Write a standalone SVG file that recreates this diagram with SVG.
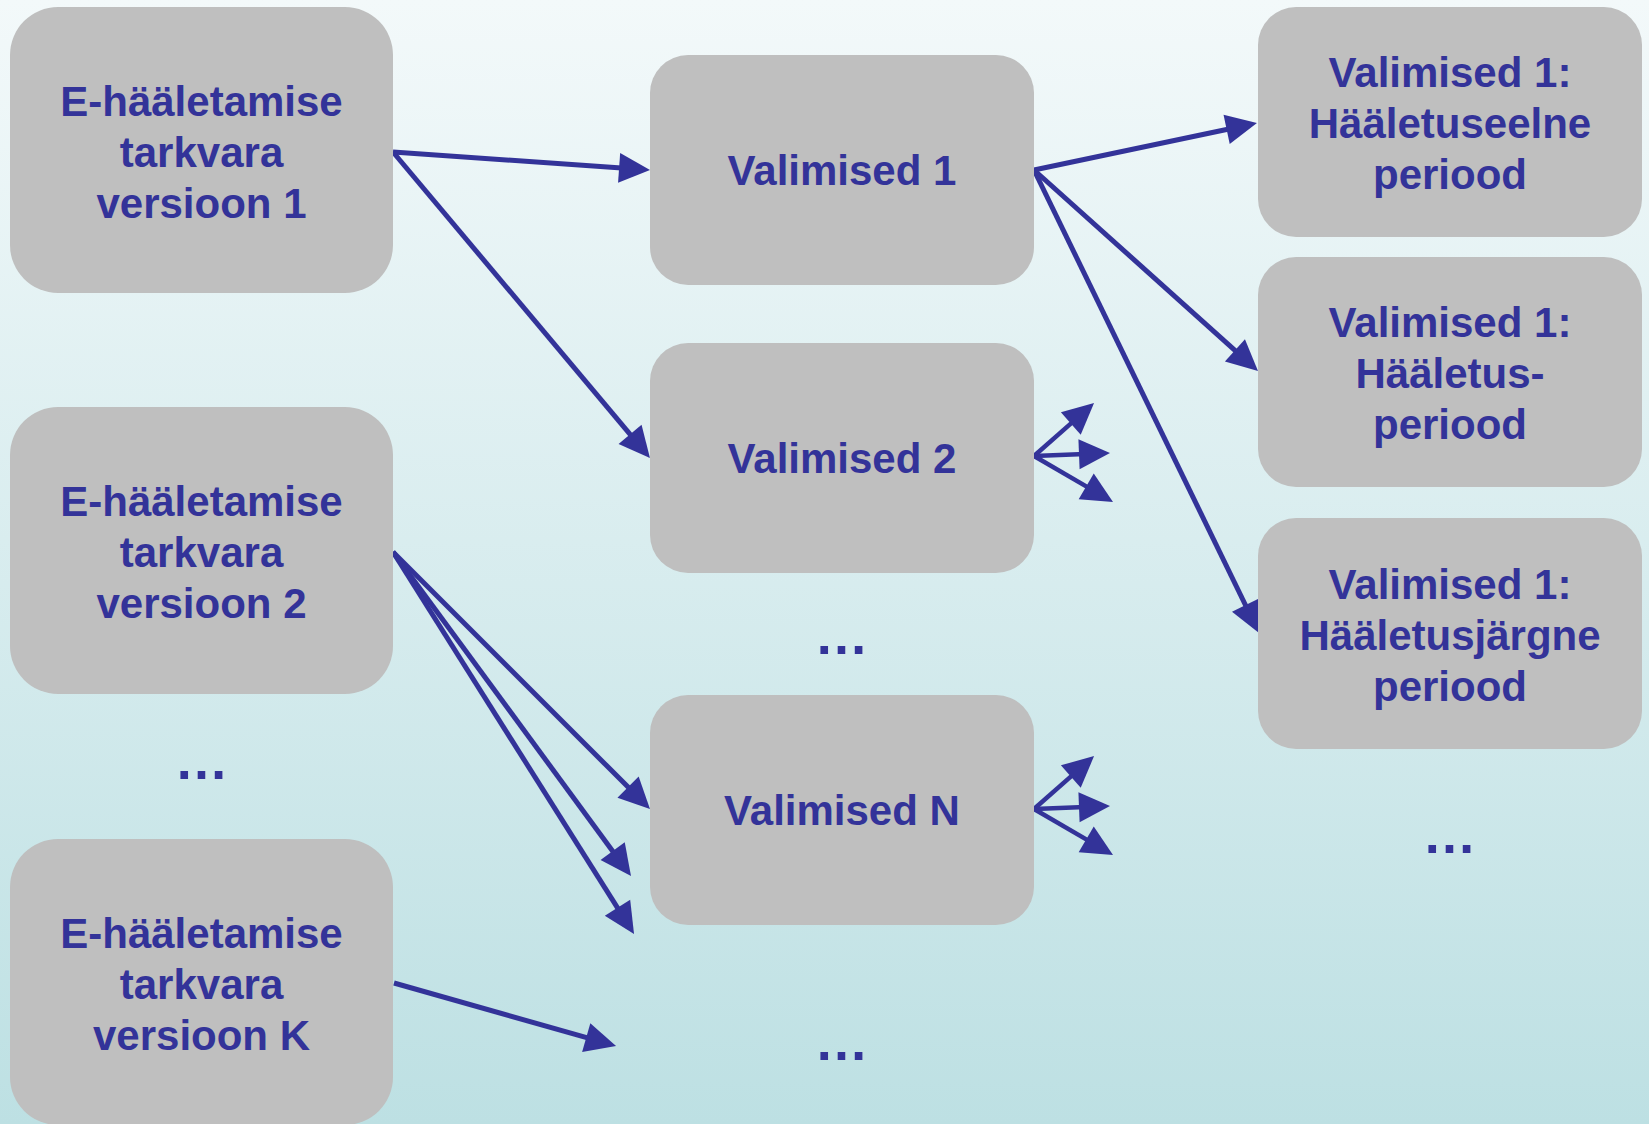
<svg xmlns="http://www.w3.org/2000/svg" width="1649" height="1124" viewBox="0 0 1649 1124">
<defs>
<linearGradient id="bg" x1="0" y1="0" x2="0" y2="1">
<stop offset="0" stop-color="#f3f9fa"/>
<stop offset="1" stop-color="#bde0e3"/>
</linearGradient>
<marker id="ah" markerUnits="userSpaceOnUse" markerWidth="31" markerHeight="30" refX="6" refY="15" orient="auto" overflow="visible">
<path d="M0,0 L31,15 L0,30 Z" fill="#333399"/>
</marker>
</defs>
<style>
.box{fill:#bfbfbf;}
.t{font-family:"Liberation Sans",Arial,sans-serif;font-weight:bold;font-size:42px;fill:#333399;text-anchor:middle;}
.d{font-size:54px;}
.c{fill:none;stroke:#333399;stroke-width:5;marker-end:url(#ah);}
.s{stroke-width:4.5;}
</style>
<rect x="0" y="0" width="1649" height="1124" fill="url(#bg)"/>

<g id="connectors">
<path class="c" d="M393,152 L625.1,168.3"/>
<path class="c" d="M393,152 L633.9,438.9"/>
<path class="c" d="M393,552 L632.3,791.3"/>
<path class="c" d="M393,552 L616.2,855.9"/>
<path class="c" d="M393,552 L620.7,912.9"/>
<path class="c" d="M394,983 L592,1039.2"/>
<path class="c" d="M1034,170 L1232.5,128.2"/>
<path class="c" d="M1034,170 L1239.4,354.3"/>
<path class="c" d="M1034,170 L1248.1,610.5"/>
<path class="c s" d="M1034,456 L1075.3,419.6"/>
<path class="c s" d="M1034,456 L1085,454"/>
<path class="c s" d="M1034,456 L1091.4,489.4"/>
<path class="c s" d="M1034,809 L1075.3,772.6"/>
<path class="c s" d="M1034,809 L1085,807"/>
<path class="c s" d="M1034,809 L1091.4,842.4"/>
</g>

<g id="ver1">
<rect class="box" x="10" y="7" width="383" height="286" rx="48"/>
<text class="t" x="201.5" y="116">E-hääletamise</text>
<text class="t" x="201.5" y="167">tarkvara</text>
<text class="t" x="201.5" y="218">versioon 1</text>
</g>
<g id="ver2">
<rect class="box" x="10" y="407" width="383" height="287" rx="48"/>
<text class="t" x="201.5" y="516">E-hääletamise</text>
<text class="t" x="201.5" y="567">tarkvara</text>
<text class="t" x="201.5" y="618">versioon 2</text>
</g>
<g id="verK">
<rect class="box" x="10" y="839" width="383" height="286" rx="48"/>
<text class="t" x="201.5" y="948">E-hääletamise</text>
<text class="t" x="201.5" y="999">tarkvara</text>
<text class="t" x="201.5" y="1050">versioon K</text>
</g>
<g id="dots-left"><text class="t d" x="201.5" y="779">…</text></g>

<g id="val1">
<rect class="box" x="650" y="55" width="384" height="230" rx="38"/>
<text class="t" x="842" y="185">Valimised 1</text>
</g>
<g id="val2">
<rect class="box" x="650" y="343" width="384" height="230" rx="38"/>
<text class="t" x="842" y="473">Valimised 2</text>
</g>
<g id="dots-mid1"><text class="t d" x="841.5" y="654">…</text></g>
<g id="valN">
<rect class="box" x="650" y="695" width="384" height="230" rx="38"/>
<text class="t" x="842" y="825">Valimised N</text>
</g>
<g id="dots-mid2"><text class="t d" x="841.5" y="1060">…</text></g>

<g id="r1">
<rect class="box" x="1258" y="7" width="384" height="230" rx="38"/>
<text class="t" x="1450" y="87">Valimised 1:</text>
<text class="t" x="1450" y="138">Hääletuseelne</text>
<text class="t" x="1450" y="189">periood</text>
</g>
<g id="r2">
<rect class="box" x="1258" y="257" width="384" height="230" rx="38"/>
<text class="t" x="1450" y="337">Valimised 1:</text>
<text class="t" x="1450" y="388">Hääletus-</text>
<text class="t" x="1450" y="439">periood</text>
</g>
<g id="r3">
<rect class="box" x="1258" y="518" width="384" height="231" rx="38"/>
<text class="t" x="1450" y="599">Valimised 1:</text>
<text class="t" x="1450" y="650">Hääletusjärgne</text>
<text class="t" x="1450" y="701">periood</text>
</g>
<g id="dots-right"><text class="t d" x="1449.5" y="853">…</text></g>
</svg>
